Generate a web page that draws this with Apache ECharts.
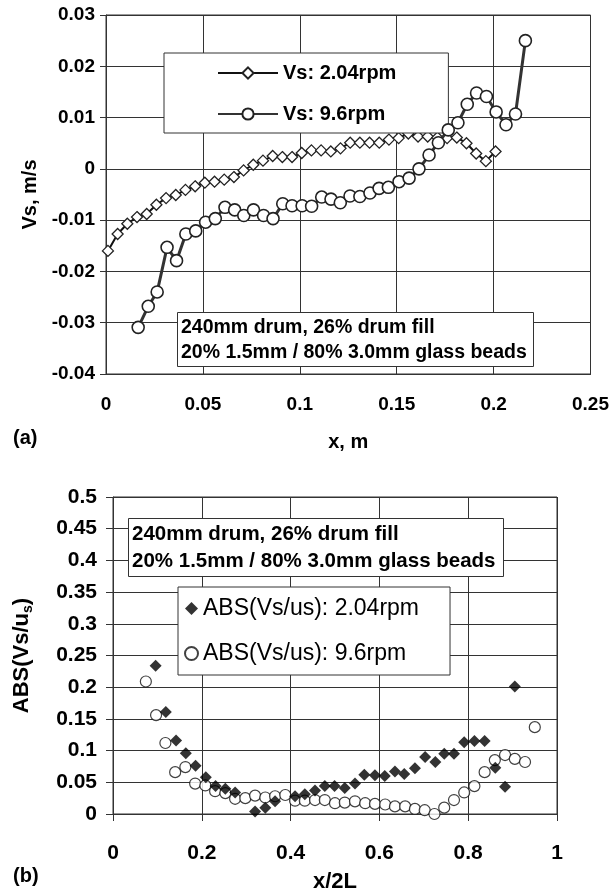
<!DOCTYPE html>
<html>
<head>
<meta charset="utf-8">
<script src="https://cdn.jsdelivr.net/npm/echarts@6/dist/echarts.min.js"></script>
<style>
  html, body { margin: 0; padding: 0; background: #fff; }
  #chart { width: 612px; height: 896px; }
</style>
</head>
<body>
<div id="chart"></div>
<script>
// (a) Vs against x, m
const slowX = [0.001, 0.006, 0.011, 0.016, 0.021, 0.026, 0.031, 0.036, 0.041, 0.046, 0.051, 0.056, 0.061, 0.066,
  0.071, 0.076, 0.081, 0.086, 0.091, 0.096, 0.101, 0.106, 0.111, 0.116, 0.121, 0.126, 0.131, 0.136, 0.141,
  0.146, 0.151, 0.156, 0.161, 0.166, 0.171, 0.176, 0.181, 0.186, 0.191, 0.196, 0.201]
const slowVs = [-0.016, -0.0127, -0.0107, -0.0094, -0.0088, -0.0070, -0.0057, -0.0051, -0.0041, -0.0034, -0.0027,
  -0.0025, -0.0021, -0.0016, -0.0003, 0.0008, 0.0016, 0.0025, 0.0023, 0.0023, 0.0031, 0.0036, 0.0036, 0.0034,
  0.0040, 0.0051, 0.0051, 0.0051, 0.0051, 0.0057, 0.0060, 0.0069, 0.0063, 0.0063, 0.0061, 0.0060, 0.0061,
  0.0050, 0.0030, 0.0015, 0.0034]
const fastX = [0.0166, 0.0218, 0.0264, 0.0315, 0.0364, 0.0412, 0.0463, 0.0514, 0.0564, 0.0614, 0.0664, 0.0711,
  0.0761, 0.0813, 0.0862, 0.0912, 0.096, 0.1012, 0.1061, 0.1113, 0.1161, 0.1209, 0.1259, 0.131, 0.1362, 0.1409,
  0.1457, 0.1512, 0.1564, 0.1615, 0.1667, 0.1715, 0.1766, 0.1816, 0.1864, 0.1912, 0.1963, 0.2013, 0.2064,
  0.2113, 0.2164]
const fastVs = [-0.0309, -0.0268, -0.0240, -0.0153, -0.0179, -0.0127, -0.0121, -0.0104, -0.0097, -0.0075, -0.0080,
  -0.0091, -0.0080, -0.0091, -0.0097, -0.0068, -0.0072, -0.0072, -0.0073, -0.0055, -0.0059, -0.0066, -0.0053,
  -0.0054, -0.0047, -0.0038, -0.0036, -0.0025, -0.0018, 0.0000, 0.0027, 0.0051, 0.0076, 0.0090, 0.0126,
  0.0148, 0.0141, 0.0111, 0.0086, 0.0107, 0.0250]

// (b) ABS(Vs/us) against x/2L
const slowXn = [0.096, 0.119, 0.142, 0.164, 0.186, 0.209, 0.231, 0.253, 0.275, 0.320, 0.343, 0.365, 0.410, 0.432,
  0.455, 0.477, 0.499, 0.522, 0.545, 0.566, 0.590, 0.612, 0.635, 0.656, 0.680, 0.703, 0.726, 0.746, 0.768,
  0.791, 0.814, 0.837, 0.861, 0.883, 0.905]
const slowAbs = [0.234, 0.161, 0.116, 0.096, 0.076, 0.058, 0.044, 0.040, 0.034, 0.004, 0.010, 0.020, 0.028, 0.031,
  0.037, 0.044, 0.044, 0.041, 0.048, 0.062, 0.061, 0.060, 0.067, 0.063, 0.072, 0.090, 0.082, 0.095, 0.095,
  0.113, 0.115, 0.115, 0.073, 0.043, 0.201]
const fastXn = [0.074, 0.097, 0.118, 0.140, 0.163, 0.185, 0.208, 0.230, 0.253, 0.275, 0.298, 0.320, 0.343, 0.365,
  0.388, 0.410, 0.432, 0.455, 0.477, 0.500, 0.522, 0.545, 0.568, 0.590, 0.613, 0.635, 0.658, 0.680, 0.702,
  0.724, 0.746, 0.768, 0.791, 0.814, 0.837, 0.860, 0.883, 0.905, 0.928, 0.950]
const fastAbs = [0.209, 0.156, 0.112, 0.066, 0.074, 0.048, 0.045, 0.036, 0.033, 0.024, 0.025, 0.029, 0.026, 0.028,
  0.030, 0.021, 0.021, 0.022, 0.022, 0.017, 0.018, 0.020, 0.017, 0.016, 0.015, 0.012, 0.012, 0.008, 0.006,
  0.000, 0.010, 0.022, 0.034, 0.044, 0.066, 0.085, 0.093, 0.087, 0.082, 0.137]

const seriesNames = ['Vs: 2.04rpm', 'Vs: 9.6rpm']
const seriesNamesB = ['ABS(Vs/us): 2.04rpm', 'ABS(Vs/us): 9.6rpm']

const FONT = '"Liberation Sans", Arial, sans-serif'
const GRID = '#333'

const pairs = (xs, ys) => xs.map((x, i) => [x, ys[i]])

const chart = echarts.init(document.getElementById('chart'))

chart.setOption({
  backgroundColor: '#fff',
  animation: false,
  textStyle: { fontFamily: FONT, color: '#000' },
  grid: [
    { left: 106, top: 15, width: 486, height: 359, show: true, borderColor: GRID, borderWidth: 1 },
    { left: 113, top: 497, width: 444, height: 317, show: true, borderColor: GRID, borderWidth: 1 },
  ],
  xAxis: [
    {
      gridIndex: 0, type: 'value', min: 0, max: 0.25, interval: 0.05,
      name: 'x, m', nameLocation: 'middle', nameGap: 58,
      nameTextStyle: { fontFamily: FONT, fontSize: 20, fontWeight: 'bold', color: '#000' },
      axisLine: { onZero: false, lineStyle: { color: GRID } },
      axisTick: { show: false },
      axisLabel: { margin: 21, fontFamily: FONT, fontSize: 19, fontWeight: 'bold', color: '#000' },
      splitLine: { show: true, lineStyle: { color: GRID, width: 1 } },
    },
    {
      // axis crossing at Vs = 0, ticks only
      gridIndex: 0, type: 'value', min: 0, max: 0.25, interval: 0.05,
      axisLine: { onZero: true, lineStyle: { color: GRID } },
      axisTick: { show: true, length: 4, lineStyle: { color: GRID } },
      axisLabel: { show: false },
      splitLine: { show: false },
    },
    {
      gridIndex: 1, type: 'value', min: 0, max: 1, interval: 0.2,
      name: 'x/2L', nameLocation: 'middle', nameGap: 57,
      nameTextStyle: { fontFamily: FONT, fontSize: 22, fontWeight: 'bold', color: '#000' },
      axisLine: { onZero: false, lineStyle: { color: GRID } },
      axisTick: { show: true, length: 7, lineStyle: { color: GRID } },
      axisLabel: { margin: 29, fontFamily: FONT, fontSize: 21, fontWeight: 'bold', color: '#000' },
      splitLine: { show: true, lineStyle: { color: GRID, width: 1 } },
    },
  ],
  yAxis: [
    {
      gridIndex: 0, type: 'value', min: -0.04, max: 0.03, interval: 0.01,
      name: 'Vs, m/s', nameLocation: 'middle', nameGap: 66,
      nameTextStyle: { fontFamily: FONT, fontSize: 20, fontWeight: 'bold', color: '#000' },
      axisLine: { lineStyle: { color: GRID } },
      axisTick: { show: true, length: 6, lineStyle: { color: GRID } },
      axisLabel: { margin: 11, fontFamily: FONT, fontSize: 19, fontWeight: 'bold', color: '#000' },
      splitLine: { show: true, lineStyle: { color: GRID, width: 1 } },
    },
    {
      gridIndex: 1, type: 'value', min: 0, max: 0.5, interval: 0.05,
      name: 'ABS(Vs/u{sub|s})', nameLocation: 'middle', nameGap: 78,
      nameTextStyle: {
        fontFamily: FONT, fontSize: 22, fontWeight: 'bold', color: '#000', lineHeight: 26,
        rich: { sub: { fontFamily: FONT, fontSize: 14, fontWeight: 'bold', color: '#000', lineHeight: 26, verticalAlign: 'bottom', padding: [10, 0, 0, 0] } },
      },
      axisLine: { lineStyle: { color: GRID } },
      axisTick: { show: true, length: 7, lineStyle: { color: GRID } },
      axisLabel: { margin: 16, fontFamily: FONT, fontSize: 21, fontWeight: 'bold', color: '#000' },
      splitLine: { show: true, lineStyle: { color: GRID, width: 1 } },
    },
  ],
  legend: [
    {
      data: seriesNames, orient: 'vertical', left: 164, top: 53,
      padding: [10, 52, 9, 53], itemWidth: 60, itemHeight: 14, itemGap: 21, itemTextGap: 6,
      backgroundColor: '#fff', borderColor: GRID, borderWidth: 1,
      textStyle: { fontFamily: FONT, fontSize: 20, fontWeight: 'bold', color: '#000' },
    },
    {
      data: seriesNamesB, orient: 'vertical', left: 178, top: 587,
      padding: [10, 31, 10, 6], itemWidth: 13, itemHeight: 13, itemGap: 22, itemTextGap: 7,
      backgroundColor: '#fff', borderColor: GRID, borderWidth: 1,
      textStyle: { fontFamily: FONT, fontSize: 23, color: '#000' },
    },
  ],
  title: [
    {
      text: '240mm drum, 26% drum fill\n20% 1.5mm / 80% 3.0mm glass beads',
      left: 177, top: 312, padding: [3, 7, 2, 4],
      backgroundColor: '#fff', borderColor: GRID, borderWidth: 1,
      textStyle: { fontFamily: FONT, fontSize: 19.5, fontWeight: 'bold', color: '#000', lineHeight: 25 },
    },
    {
      text: '240mm drum, 26% drum fill\n20% 1.5mm / 80% 3.0mm glass beads',
      left: 128, top: 518, padding: [3, 8, 2, 4],
      backgroundColor: '#fff', borderColor: GRID, borderWidth: 1,
      textStyle: { fontFamily: FONT, fontSize: 20.5, fontWeight: 'bold', color: '#000', lineHeight: 27 },
    },
  ],
  graphic: [
    { type: 'text', left: 13, top: 428, style: { text: '(a)', font: 'bold 20px ' + FONT, fill: '#000' } },
    { type: 'text', left: 13, top: 866, style: { text: '(b)', font: 'bold 20px ' + FONT, fill: '#000' } },
  ],
  series: [
    {
      name: seriesNames[0], type: 'line', xAxisIndex: 0, yAxisIndex: 0,
      data: pairs(slowX, slowVs),
      symbol: 'diamond', symbolSize: 11, showSymbol: true,
      lineStyle: { color: '#111', width: 2 },
      itemStyle: { color: '#fff', borderColor: '#222', borderWidth: 1.3 },
      z: 3,
    },
    {
      name: seriesNames[1], type: 'line', xAxisIndex: 0, yAxisIndex: 0,
      data: pairs(fastX, fastVs),
      symbol: 'circle', symbolSize: 12, showSymbol: true,
      lineStyle: { color: '#333', width: 3 },
      itemStyle: { color: '#fff', borderColor: '#222', borderWidth: 1.6 },
      z: 4,
    },
    {
      name: seriesNamesB[1], type: 'scatter', xAxisIndex: 2, yAxisIndex: 1,
      data: pairs(fastXn, fastAbs),
      symbol: 'circle', symbolSize: 11,
      itemStyle: { color: '#fff', borderColor: '#111', borderWidth: 1.2 },
      z: 3,
    },
    {
      name: seriesNamesB[0], type: 'scatter', xAxisIndex: 2, yAxisIndex: 1,
      data: pairs(slowXn, slowAbs),
      symbol: 'diamond', symbolSize: 12,
      itemStyle: { color: '#000' },
      z: 4,
    },
  ],
})
</script>
</body>
</html>
